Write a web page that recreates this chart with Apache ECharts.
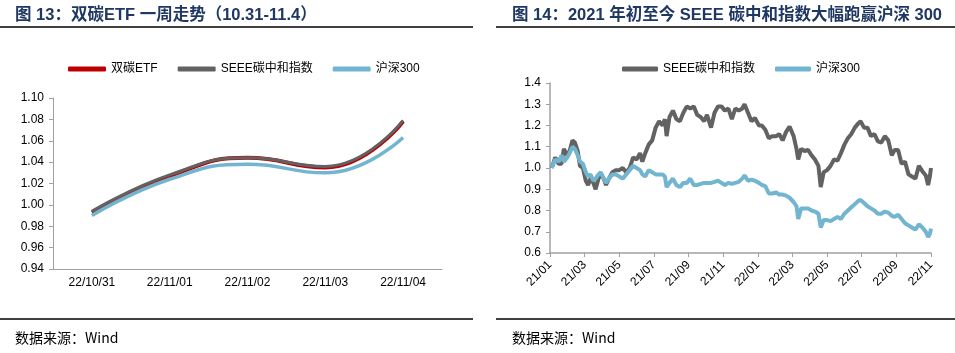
<!DOCTYPE html>
<html style="height: 100%">
<head>
    <meta charset="UTF-8">
    <title>双碳ETF / SEEE碳中和指数</title>
</head>
<body style="height: 100%; margin: 0; background: #fff">
<div id="container" style="width: 955px; height: 353px"></div>
<script src="https://cdn.jsdelivr.net/npm/echarts@6.0.0/dist/echarts.min.js"></script>
<script>
    // 图13 一周走势
    var weekDays = ['22/10/31', '22/11/01', '22/11/02', '22/11/03', '22/11/04'];
    var etfWeek = [0.993, 1.027, 1.044, 1.035, 1.078];
    var seeeWeek = [0.994, 1.028, 1.044, 1.036, 1.079];
    var hs300Week = [0.990, 1.024, 1.038, 1.030, 1.063];

    // 图14 2021年初至今（读图估计，约每周一个点）
    var dates = [
        '2021-01-04', '2021-01-10', '2021-01-16', '2021-01-21', '2021-01-25',
        '2021-02-01', '2021-02-05', '2021-02-10', '2021-02-14', '2021-02-19', '2021-02-23', '2021-02-28',
        '2021-03-03', '2021-03-07', '2021-03-11', '2021-03-16', '2021-03-20', '2021-03-25', '2021-03-29',
        '2021-04-04', '2021-04-08', '2021-04-13', '2021-04-19', '2021-04-25',
        '2021-05-01', '2021-05-07', '2021-05-13', '2021-05-19', '2021-05-25',
        '2021-06-01', '2021-06-07', '2021-06-11', '2021-06-16', '2021-06-22', '2021-06-28',
        '2021-07-04', '2021-07-10', '2021-07-16', '2021-07-20', '2021-07-23', '2021-07-28',
        '2021-08-04', '2021-08-10', '2021-08-16', '2021-08-22', '2021-08-28',
        '2021-09-04', '2021-09-10', '2021-09-16', '2021-09-22', '2021-09-28',
        '2021-10-03', '2021-10-10', '2021-10-16', '2021-10-22', '2021-10-28',
        '2021-11-04', '2021-11-10', '2021-11-16', '2021-11-22', '2021-11-28',
        '2021-12-04', '2021-12-08', '2021-12-14', '2021-12-20', '2021-12-26',
        '2022-01-03', '2022-01-08', '2022-01-14', '2022-01-20', '2022-01-26',
        '2022-02-03', '2022-02-08', '2022-02-14', '2022-02-20', '2022-02-26',
        '2022-03-03', '2022-03-08', '2022-03-11', '2022-03-16', '2022-03-22', '2022-03-28',
        '2022-04-04', '2022-04-10', '2022-04-16', '2022-04-20', '2022-04-25',
        '2022-05-01', '2022-05-07', '2022-05-13', '2022-05-19', '2022-05-25',
        '2022-06-01', '2022-06-07', '2022-06-13', '2022-06-19', '2022-06-25', '2022-06-29',
        '2022-07-05', '2022-07-11', '2022-07-17', '2022-07-23', '2022-07-29',
        '2022-08-05', '2022-08-11', '2022-08-17', '2022-08-23', '2022-08-28',
        '2022-09-04', '2022-09-10', '2022-09-16', '2022-09-22', '2022-09-28',
        '2022-10-04', '2022-10-10', '2022-10-16', '2022-10-22', '2022-10-26', '2022-10-29', '2022-11-01'
    ];
    var seeeIdx = [
        1.00, 1.05, 1.02, 1.02, 1.09,
        1.06, 1.08, 1.13, 1.12, 1.08, 1.01, 1.00,
        0.94, 0.92, 0.95, 0.93, 0.90, 0.95, 0.97,
        0.95, 0.92, 0.95, 0.98, 0.99,
        0.99, 1.00, 0.98, 1.00, 1.05,
        1.04, 1.07, 1.03, 1.07, 1.11, 1.13,
        1.19, 1.22, 1.20, 1.23, 1.15, 1.24,
        1.27, 1.23, 1.22, 1.26, 1.29,
        1.28, 1.29, 1.25, 1.24, 1.22,
        1.25, 1.19, 1.26, 1.29, 1.29,
        1.27, 1.28, 1.23, 1.28, 1.27,
        1.28, 1.30, 1.26, 1.22, 1.235,
        1.20, 1.20, 1.18, 1.14, 1.15,
        1.15, 1.16, 1.13, 1.17, 1.195,
        1.15, 1.09, 1.04, 1.09, 1.08, 1.085,
        1.06, 1.04, 1.01, 0.91, 0.98,
        0.99, 1.01, 1.04, 1.035, 1.07,
        1.11, 1.14, 1.16, 1.19, 1.21, 1.22,
        1.19, 1.19, 1.15, 1.16, 1.125,
        1.12, 1.15, 1.13, 1.06, 1.085,
        1.085, 1.02, 1.03, 0.97, 0.96,
        0.95, 1.01, 0.985, 0.965, 0.92, 0.96, 1.00
    ];
    var hs300Idx = [
        1.00, 1.04, 1.03, 1.06, 1.03,
        1.05, 1.07, 1.10, 1.09, 1.06, 1.03, 1.02,
        0.98, 0.96, 0.97, 0.94, 0.95, 0.97, 0.98,
        0.95, 0.93, 0.95, 0.97, 0.97,
        0.96, 0.95, 0.97, 0.99, 1.01,
        1.00, 0.99, 0.97, 0.96, 0.99, 0.98,
        0.97, 0.97, 0.97, 0.96, 0.91, 0.93,
        0.95, 0.92, 0.91, 0.93, 0.93,
        0.95, 0.92, 0.92, 0.925, 0.93,
        0.93, 0.93, 0.935, 0.94, 0.93,
        0.92, 0.93, 0.925, 0.93, 0.935,
        0.95, 0.965, 0.94, 0.945, 0.94,
        0.93, 0.92, 0.915, 0.88, 0.88,
        0.885, 0.875, 0.875, 0.87, 0.86,
        0.84, 0.82, 0.76, 0.81, 0.81, 0.81,
        0.80, 0.795, 0.785, 0.72, 0.755,
        0.755, 0.75, 0.76, 0.77, 0.76,
        0.785, 0.80, 0.815, 0.83, 0.845, 0.85,
        0.835, 0.82, 0.81, 0.80, 0.785,
        0.785, 0.795, 0.79, 0.775, 0.77,
        0.78, 0.76, 0.74, 0.73, 0.72,
        0.71, 0.735, 0.72, 0.70, 0.675, 0.69, 0.715
    ];
    var monthTicks = ['21/01', '21/03', '21/05', '21/07', '21/09', '21/11',
        '22/01', '22/03', '22/05', '22/07', '22/09', '22/11'];

    // 日期 -> 自2021年1月起的月份位置
    function monthPos(s) {
        var p = s.split('-').map(Number);
        return (p[0] - 2021) * 12 + (p[1] - 1) + (p[2] - 1) / 30;
    }
    var seeeData = [], hs300Data = [];
    for (var i = 0; i < dates.length; i++) {
        var m = monthPos(dates[i]);
        seeeData.push([m, seeeIdx[i]]);
        hs300Data.push([m, hs300Idx[i]]);
    }

    var FONT = "'Liberation Sans', 'Noto Sans CJK SC', sans-serif";
    var RED = '#C00000', GRAY = '#626262', BLUE = '#72B5D0', AXIS = '#A0A0A0';
    var titleStyle = {fontSize: 16.5, fontWeight: 'bold', color: '#1F3763', fontFamily: FONT};
    var srcStyle = {fontSize: 14, fontWeight: 'normal', color: '#000', fontFamily: "'Noto Sans CJK SC', sans-serif"};
    var labelStyle = {fontSize: 12, color: '#000', fontFamily: FONT};

    var myChart = echarts.init(document.getElementById('container'));
    var option = {
        animation: false,
        title: [
            {text: '图 13：双碳ETF 一周走势（10.31-11.4）', left: 10, top: 2, textStyle: titleStyle},
            {text: '图 14：2021 年初至今 SEEE 碳中和指数大幅跑赢沪深 300', left: 507, top: 2, textStyle: titleStyle},
            {text: '数据来源：Wind', left: 10, top: 326, textStyle: srcStyle},
            {text: '数据来源：Wind', left: 507, top: 326, textStyle: srcStyle}
        ],
        graphic: [
            {type: 'line', shape: {x1: 0, y1: 27, x2: 473, y2: 27}, style: {stroke: '#000', lineWidth: 1.5}},
            {type: 'line', shape: {x1: 496, y1: 27, x2: 955, y2: 27}, style: {stroke: '#000', lineWidth: 1.5}},
            {type: 'line', shape: {x1: 0, y1: 319, x2: 473, y2: 319}, style: {stroke: '#000', lineWidth: 1.5}},
            {type: 'line', shape: {x1: 496, y1: 319, x2: 955, y2: 319}, style: {stroke: '#000', lineWidth: 1.5}}
        ],
        legend: [
            {
                data: ['双碳ETF', 'SEEE碳中和指数', '沪深300'],
                left: 63, top: 58, icon: 'roundRect', itemWidth: 38, itemHeight: 5, itemGap: 20,
                textStyle: labelStyle
            },
            {
                data: ['SEEE碳中和指数', '沪深300'],
                left: 617, top: 58, icon: 'roundRect', itemWidth: 36, itemHeight: 5, itemGap: 20,
                textStyle: labelStyle
            }
        ],
        grid: [
            {left: 53, right: 513, top: 98, bottom: 84},
            {left: 550, right: 24, top: 83, bottom: 100}
        ],
        xAxis: [
            {
                type: 'category', gridIndex: 0, data: weekDays, boundaryGap: true,
                axisLine: {lineStyle: {color: AXIS}},
                axisTick: {length: 4, lineStyle: {color: AXIS}},
                axisLabel: Object.assign({margin: 8}, labelStyle)
            },
            {
                type: 'value', gridIndex: 1, min: 0, max: 22, interval: 2,
                splitLine: {show: false},
                axisLine: {lineStyle: {color: AXIS, width: 1.5}},
                axisTick: {length: 4, lineStyle: {color: AXIS}},
                axisLabel: Object.assign({
                    rotate: 45, margin: 10,
                    formatter: function (v) { return monthTicks[Math.round(v / 2)]; }
                }, labelStyle)
            }
        ],
        yAxis: [
            {
                type: 'value', gridIndex: 0, min: 0.94, max: 1.10, interval: 0.02,
                splitLine: {show: false},
                axisLine: {show: true, lineStyle: {color: AXIS}},
                axisTick: {show: true, length: 4, lineStyle: {color: AXIS}},
                axisLabel: Object.assign({
                    margin: 9,
                    formatter: function (v) { return v.toFixed(2); }
                }, labelStyle)
            },
            {
                type: 'value', gridIndex: 1, min: 0.6, max: 1.4, interval: 0.1,
                splitLine: {show: false},
                axisLine: {show: true, lineStyle: {color: AXIS, width: 1.5}},
                axisTick: {show: true, length: 4, lineStyle: {color: AXIS}},
                axisLabel: Object.assign({
                    margin: 9,
                    formatter: function (v) { return v.toFixed(1); }
                }, labelStyle)
            }
        ],
        series: [
            {
                name: '双碳ETF', type: 'line', xAxisIndex: 0, yAxisIndex: 0, data: etfWeek,
                smooth: true, symbol: 'none', itemStyle: {color: RED}, lineStyle: {color: RED, width: 4}
            },
            {
                name: 'SEEE碳中和指数', type: 'line', xAxisIndex: 0, yAxisIndex: 0, data: seeeWeek,
                smooth: true, symbol: 'none', itemStyle: {color: GRAY}, lineStyle: {color: GRAY, width: 3}
            },
            {
                name: '沪深300', type: 'line', xAxisIndex: 0, yAxisIndex: 0, data: hs300Week,
                smooth: true, symbol: 'none', itemStyle: {color: BLUE}, lineStyle: {color: BLUE, width: 3.5}
            },
            {
                name: 'SEEE碳中和指数', type: 'line', xAxisIndex: 1, yAxisIndex: 1, data: seeeData,
                symbol: 'none', itemStyle: {color: GRAY}, lineStyle: {color: GRAY, width: 4}
            },
            {
                name: '沪深300', type: 'line', xAxisIndex: 1, yAxisIndex: 1, data: hs300Data,
                symbol: 'none', itemStyle: {color: BLUE}, lineStyle: {color: BLUE, width: 4}
            }
        ]
    };
    myChart.setOption(option);
</script>
</body>
</html>
